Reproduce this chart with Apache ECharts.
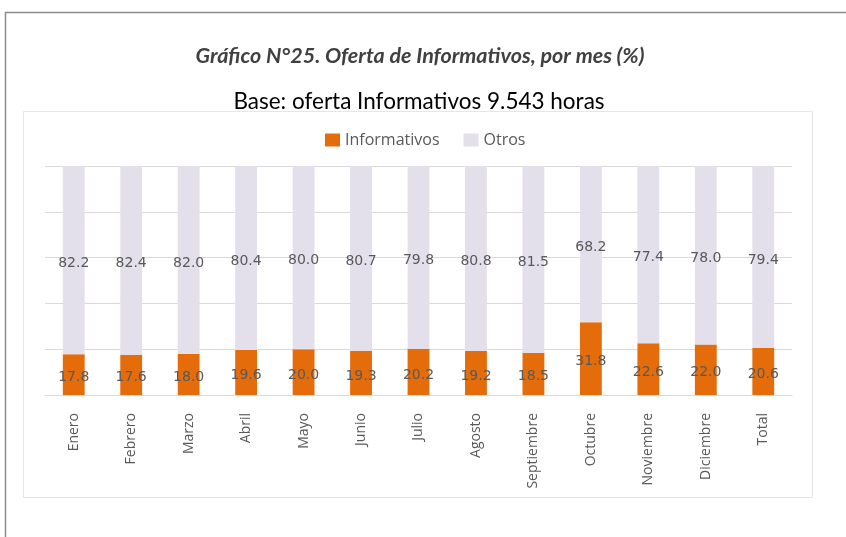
<!DOCTYPE html>
<html>
<head>
<meta charset="utf-8">
<script src="https://cdn.jsdelivr.net/npm/echarts@6/dist/echarts.min.js"></script>
<style>
  html, body { margin: 0; padding: 0; background: #fff; }
  #main { width: 846px; height: 537px; }
</style>
</head>
<body>
<div id="main"></div>
<script>
// datos
var meses = ['Enero', 'Febrero', 'Marzo', 'Abril', 'Mayo', 'Junio', 'Julio', 'Agosto',
             'Septiembre', 'Octubre', 'Noviembre', 'Diciembre', 'Total'];
var informativos = [17.8, 17.6, 18.0, 19.6, 20.0, 19.3, 20.2, 19.2, 18.5, 31.8, 22.6, 22.0, 20.6];
var otros = [82.2, 82.4, 82.0, 80.4, 80.0, 80.7, 79.8, 80.8, 81.5, 68.2, 77.4, 78.0, 79.4];

var chart = echarts.init(document.getElementById('main'));

var etiqueta = {
    show: true,
    position: 'inside',
    offset: [0, 3],
    color: '#595959',
    fontSize: 14,
    fontFamily: 'DejaVu Sans',
    formatter: function (p) { return p.value.toFixed(1); }
};

chart.setOption({
    animation: false,
    backgroundColor: '#fff',
    graphic: [
        // marco exterior
        { type: 'rect', z: -10, shape: { x: 5.5, y: 12.5, width: 860, height: 540 },
          style: { fill: 'none', stroke: '#8c8c8c', lineWidth: 1.5 } },
        // caja del grafico
        { type: 'rect', z: -10, shape: { x: 23.5, y: 111.5, width: 789, height: 386 },
          style: { fill: '#fff', stroke: '#e6e6e6', lineWidth: 1 } }
    ],
    title: [{
        text: 'Gráfico N°25. Oferta de Informativos, por mes (%)',
        left: 415, top: 40, textAlign: 'center',
        textStyle: { fontFamily: 'Lato', fontStyle: 'italic', fontWeight: 'bold', fontSize: 21.5, color: '#404040' }
    }, {
        text: 'Base: oferta Informativos 9.543 horas',
        left: 414, top: 85, textAlign: 'center',
        textStyle: { fontFamily: 'Lato', fontWeight: 'normal', fontSize: 22.5, color: '#000' }
    }],
    legend: {
        top: 127, left: 320,
        itemWidth: 15, itemHeight: 13, itemGap: 24,
        icon: 'rect',
        textStyle: { color: '#595959', fontSize: 16, fontFamily: 'Open Sans' },
        data: ['Informativos', 'Otros']
    },
    grid: { left: 45, right: 54, top: 166, bottom: 142 },
    xAxis: {
        type: 'category',
        data: meses,
        axisLine: { lineStyle: { color: '#d9d9d9' } },
        axisTick: { show: false },
        axisLabel: { rotate: 90, color: '#595959', fontSize: 14, fontFamily: 'Open Sans', margin: 18 }
    },
    yAxis: {
        type: 'value',
        min: 0, max: 100, interval: 20,
        axisLabel: { show: false },
        axisLine: { show: false },
        axisTick: { show: false },
        splitLine: { lineStyle: { color: '#d9d9d9' } }
    },
    series: [{
        name: 'Informativos',
        type: 'bar',
        stack: 'total',
        barWidth: '38%',
        itemStyle: { color: '#E46C0A' },
        label: etiqueta,
        data: informativos
    }, {
        name: 'Otros',
        type: 'bar',
        stack: 'total',
        barWidth: '38%',
        itemStyle: { color: '#E3DFEB' },
        label: etiqueta,
        data: otros
    }]
});
</script>
</body>
</html>
